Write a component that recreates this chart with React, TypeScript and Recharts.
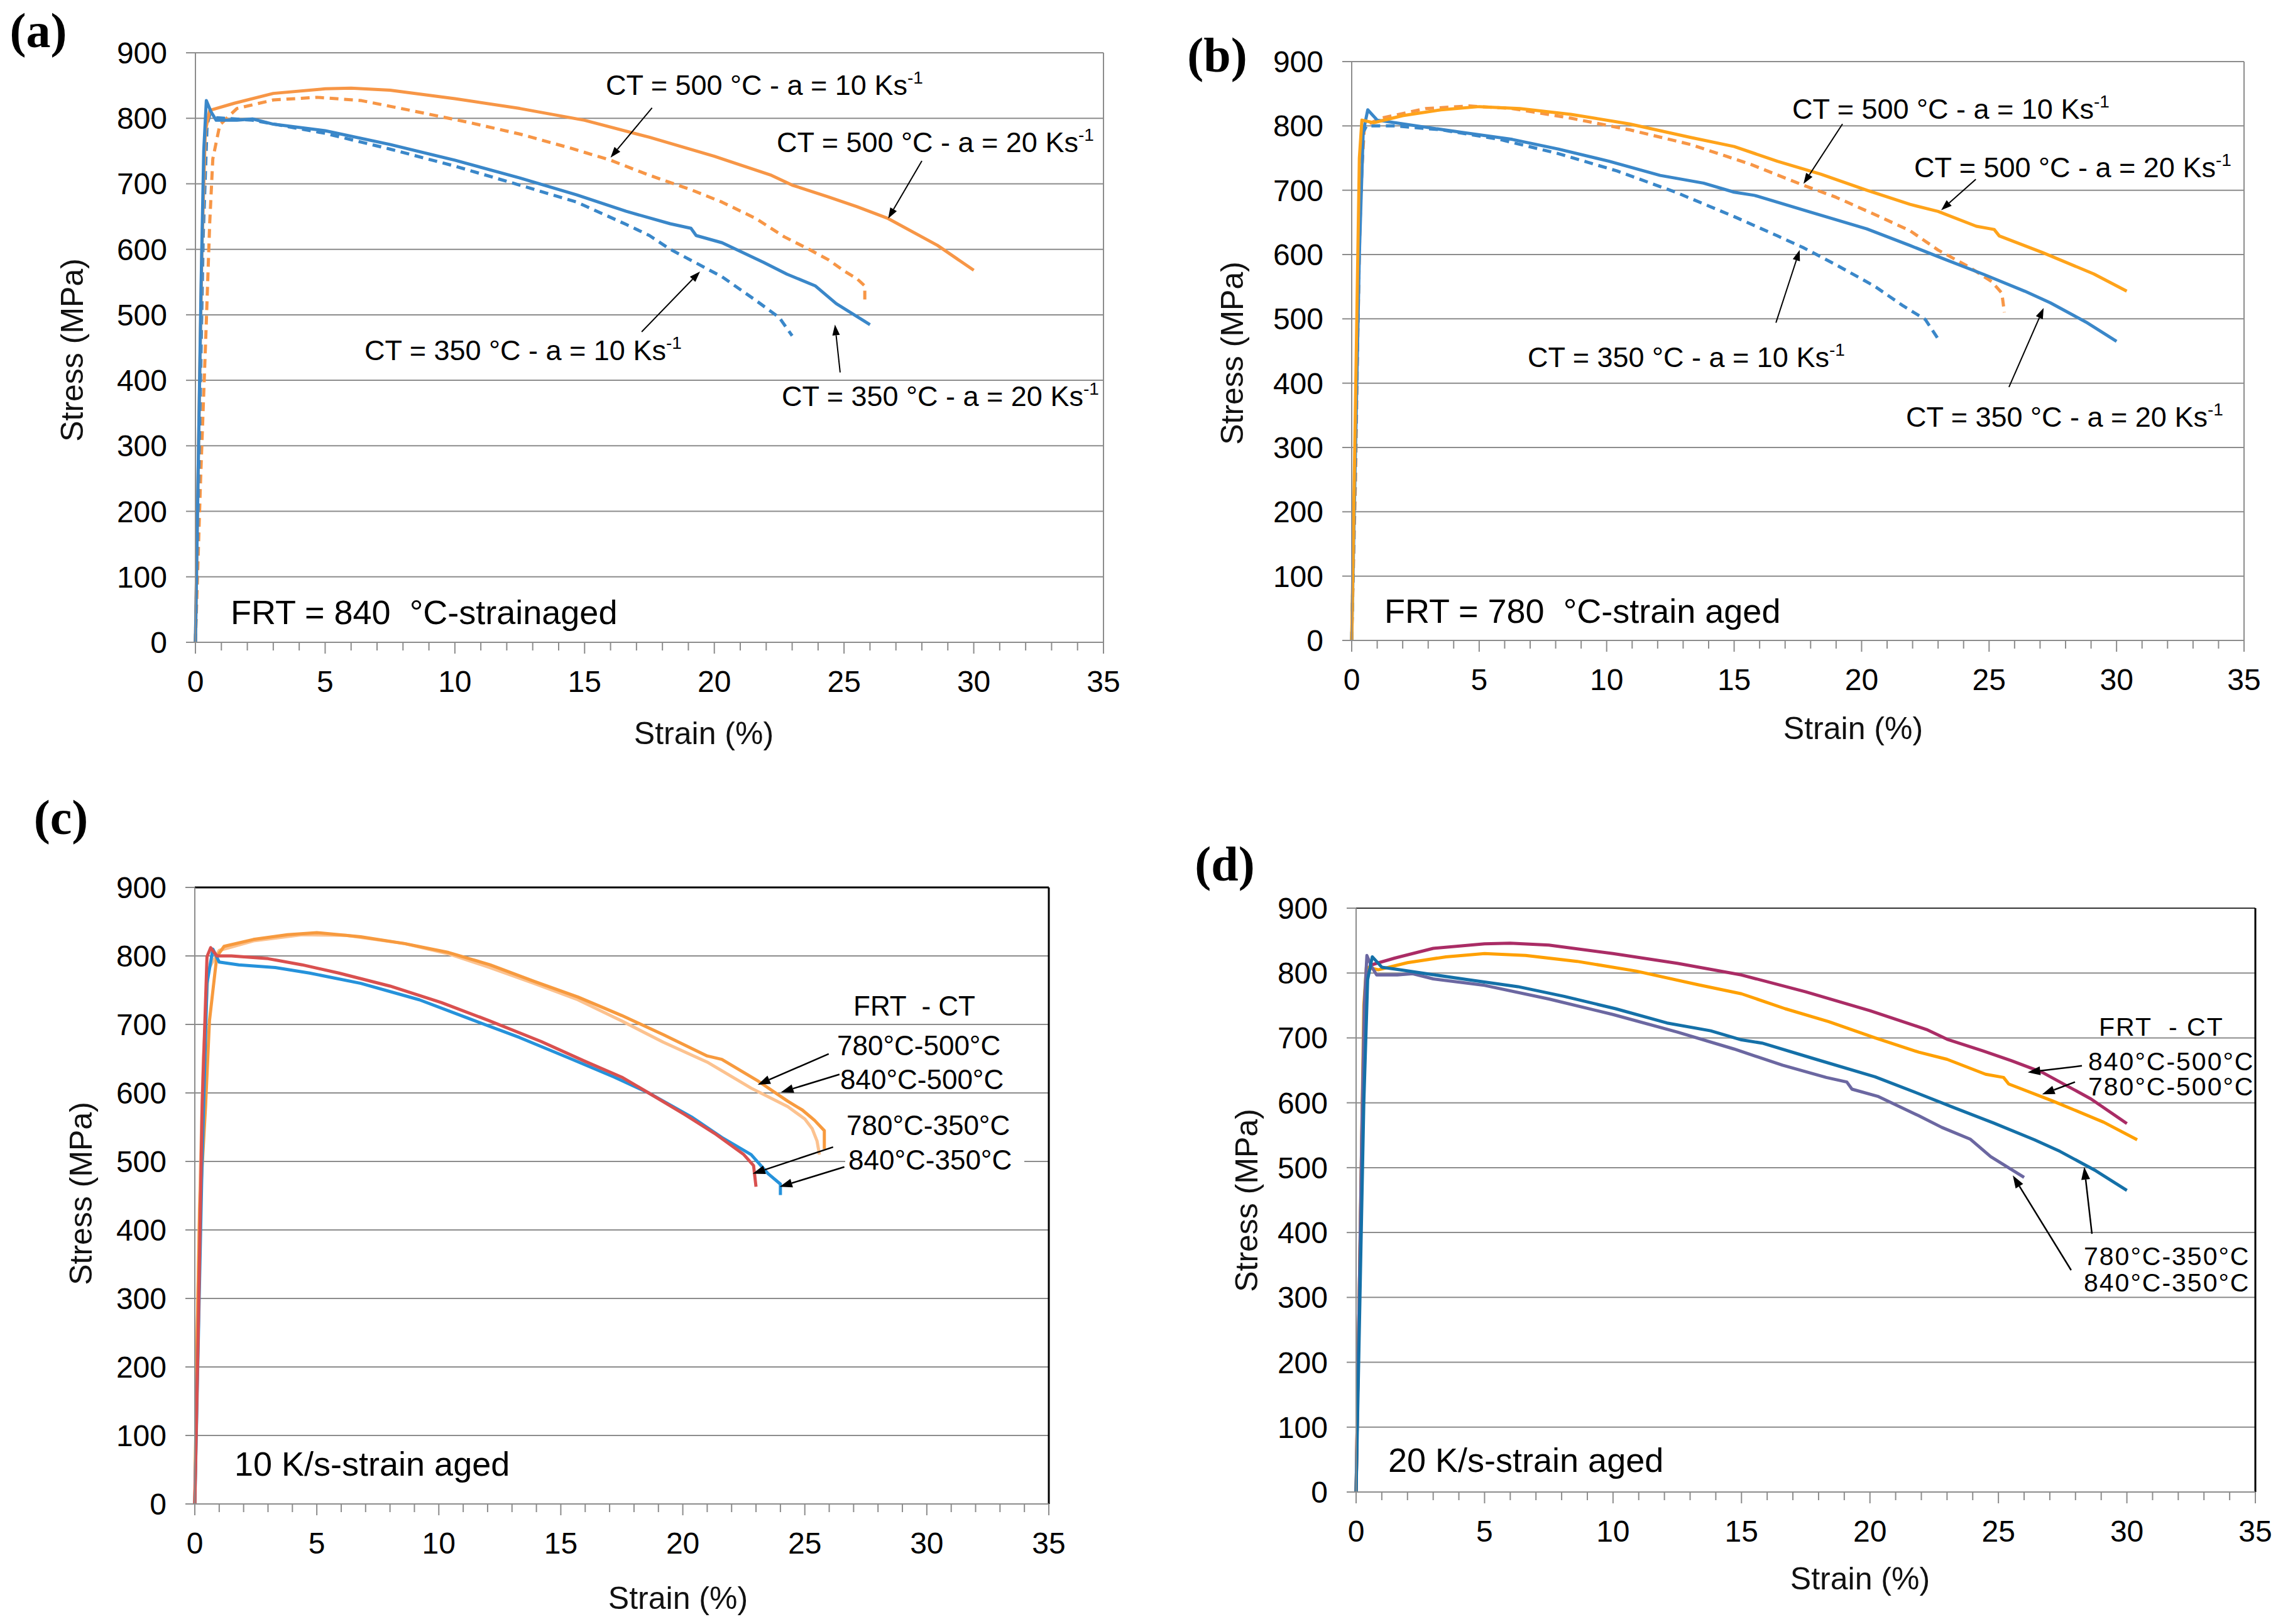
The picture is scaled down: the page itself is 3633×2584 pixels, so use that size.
import React from 'react';
import { LineChart, Line, XAxis, YAxis, CartesianGrid, ReferenceLine } from 'recharts';

const FONT = '"Liberation Sans", Arial, Helvetica, sans-serif';
const SERIF = '"Liberation Serif", "Times New Roman", serif';

// ---------- axis ticks ----------
const strainTicks = [0, 1, 2, 3, 4, 5, 6, 7, 8, 9, 10, 11, 12, 13, 14, 15, 16, 17, 18, 19, 20, 21, 22, 23, 24, 25, 26, 27, 28, 29, 30, 31, 32, 33, 34, 35];
const strainLabels = [0, 5, 10, 15, 20, 25, 30, 35];
const stressTicks = [0, 100, 200, 300, 400, 500, 600, 700, 800, 900];

// ---------- data: [strain %, stress MPa] ----------
// FRT 840 °C
const frt840_ct500_a20 = [[0, 0], [0.12, 300], [0.25, 600], [0.38, 780], [0.55, 812], [0.8, 815], [1.5, 823], [3.0, 838], [5.0, 845], [6.0, 846], [7.5, 843], [10, 830], [12.5, 815], [15, 797], [17.5, 771], [20, 742], [22.2, 713], [23, 698], [24.4, 680], [25.5, 665], [26.7, 647], [28.6, 606], [30.0, 568]];
const frt840_ct500_a10 = [[0, 0], [0.2, 250], [0.4, 467], [0.55, 640], [0.67, 738], [0.94, 790], [1.6, 815], [3.0, 828], [4.7, 832], [6.4, 827], [8.3, 812], [10.5, 794], [12.5, 776], [14.5, 754], [16.0, 736], [17.5, 713], [19.1, 691], [20.3, 672], [21.6, 647], [22.7, 619], [23.6, 601], [24.4, 584], [25.0, 567], [25.5, 555], [25.8, 544], [25.8, 520]];
const frt840_ct350_a20 = [[0, 0], [0.1, 250], [0.22, 550], [0.32, 750], [0.42, 827], [0.6, 810], [0.8, 797], [1.6, 797], [2.2, 799], [3.0, 791], [5.0, 781], [7.5, 760], [10, 736], [12.5, 709], [14.7, 683], [16.6, 658], [18.3, 639], [19.1, 632], [19.3, 621], [20.3, 610], [21.9, 580], [22.8, 562], [23.9, 544], [24.7, 517], [26.0, 485]];
const frt840_ct350_a10 = [[0, 0], [0.15, 300], [0.3, 620], [0.45, 790], [0.55, 805], [0.8, 801], [2.2, 797], [5.0, 777], [7.5, 753], [10, 727], [12.5, 698], [14.7, 672], [16.6, 638], [17.5, 621], [18.3, 600], [19.4, 577], [20.3, 558], [21.6, 522], [22.5, 496], [23.0, 468]];
// FRT 780 °C
const frt780_ct500_a20 = [[0, 0], [0.1, 250], [0.2, 500], [0.3, 750], [0.4, 809], [0.86, 805], [2.0, 816], [3.5, 825], [5.0, 830], [6.6, 827], [8.6, 818], [10.9, 803], [13.3, 782], [15.0, 768], [16.7, 745], [18.4, 725], [20.2, 700], [21.9, 678], [23.0, 667], [24.5, 644], [25.2, 639], [25.4, 629], [27.1, 603], [29.1, 570], [30.4, 543]];
const frt780_ct500_a10 = [[0, 0], [0.15, 250], [0.25, 500], [0.35, 700], [0.5, 800], [1.15, 812], [2.9, 827], [4.6, 831], [6.3, 827], [8.6, 812], [10.9, 794], [13.3, 771], [15.6, 741], [17.7, 708], [19.0, 689], [20.7, 659], [21.9, 637], [23.0, 607], [24.2, 581], [25.1, 558], [25.5, 540], [25.6, 510]];
const frt780_ct350_a20 = [[0, 0], [0.15, 300], [0.3, 600], [0.45, 790], [0.63, 825], [1.0, 809], [1.7, 805], [2.9, 798], [4.3, 790], [6.3, 779], [8.1, 764], [10.1, 745], [12.1, 723], [13.8, 711], [15.0, 697], [15.8, 692], [17.9, 667], [20.2, 640], [21.9, 614], [23.3, 592], [24.8, 569], [26.4, 543], [27.4, 525], [28.8, 495], [30.0, 465]];
const frt780_ct350_a10 = [[0, 0], [0.15, 300], [0.3, 620], [0.45, 790], [0.58, 800], [1.7, 800], [3.5, 794], [5.8, 779], [8.1, 757], [10.4, 730], [12.7, 697], [15.0, 659], [16.7, 629], [17.7, 611], [19.0, 584], [20.5, 551], [21.6, 521], [22.5, 499], [23.0, 469]];
// panel (c) curves, 10 K/s
const c_840_500 = [[0, 0], [0.1, 250], [0.2, 430], [0.44, 580], [0.6, 705], [0.9, 799], [1.2, 814], [2.4, 824], [3.8, 831], [5.0, 834], [6.8, 828], [8.6, 818], [10.4, 805], [12.1, 787], [13.9, 763], [15.7, 740], [17.5, 713], [19.2, 685], [21.0, 654], [21.6, 649], [23.1, 617], [24.3, 588], [24.9, 575], [25.4, 560], [25.8, 545], [25.8, 518]];
const c_780_500 = [[0, 0], [0.1, 250], [0.2, 450], [0.35, 650], [0.55, 780], [1.0, 808], [2.4, 822], [4.4, 831], [6.2, 830], [8.6, 818], [10.4, 803], [12.1, 783], [13.9, 760], [15.7, 736], [17.5, 705], [19.2, 674], [21.0, 645], [22.8, 607], [24.3, 580], [25.0, 562], [25.3, 548], [25.5, 530], [25.6, 510]];
const c_780_350 = [[0, 0], [0.15, 268], [0.3, 580], [0.5, 799], [0.65, 812], [0.9, 800], [1.5, 800], [3.0, 796], [4.4, 787], [5.9, 775], [8.0, 756], [10.1, 732], [12.1, 705], [14.2, 675], [16.0, 646], [17.5, 623], [18.6, 600], [20.1, 568], [21.3, 541], [22.5, 510], [22.9, 494], [23.0, 463]];
const c_840_350 = [[0, 0], [0.15, 250], [0.3, 502], [0.5, 760], [0.74, 810], [1.0, 791], [1.8, 787], [3.3, 783], [4.7, 775], [6.8, 760], [9.2, 736], [11.2, 709], [13.3, 681], [15.4, 650], [17.2, 623], [18.6, 600], [20.4, 564], [21.6, 535], [22.8, 510], [23.5, 482], [24.0, 467], [24.0, 451]];

type Pt = { x: number; y: number };
const pts = (arr: number[][]): Pt[] => arr.map(([x, y]) => ({ x, y }));

interface Series { data: number[][]; color: string; dashed?: boolean; width?: number }
interface ArrowSpec { from: [number, number]; to: [number, number] }
interface Label { text: string; x: number; y: number; sup?: boolean }

// ---------- arrow shape ----------
const makeArrow = (hl: number, hw: number, sw: number) => (props: any) => {
  const { x1, y1, x2, y2 } = props;
  if ([x1, y1, x2, y2].some((v) => typeof v !== 'number' || isNaN(v))) return <g />;
  const dx = x2 - x1;
  const dy = y2 - y1;
  const len = Math.hypot(dx, dy) || 1;
  const ux = dx / len;
  const uy = dy / len;
  const bx = x2 - ux * hl;
  const by = y2 - uy * hl;
  const px = -uy * hw;
  const py = ux * hw;
  return (
    <g>
      <line x1={x1} y1={y1} x2={bx} y2={by} stroke="#000" strokeWidth={sw} />
      <polygon points={`${x2},${y2} ${bx + px},${by + py} ${bx - px},${by - py}`} fill="#000" />
    </g>
  );
};

const XTick = (props: any) => {
  const { x, y, payload } = props;
  const v = payload.value;
  const major = v % 5 === 0;
  return (
    <g>
      <line x1={x} y1={y} x2={x} y2={y + (major ? 18 : 13)} stroke="#8c8c8c" strokeWidth={2} />
      {major && strainLabels.includes(v) ? (
        <text x={x} y={y + 45} dy="0.71em" textAnchor="middle" fontSize={48} fill="#000" fontFamily={FONT}>
          {v}
        </text>
      ) : null}
    </g>
  );
};

interface PanelProps {
  left: number; top: number; right: number; bottom: number;
  series: Series[]; arrows: ArrowSpec[];
  topBorder: string; topWidth: number; rightBorder: string; rightWidth: number;
  arrowSize: [number, number, number];
}

function Panel(p: PanelProps) {
  const ML = 300, MT = 30, MR = 30, XH = 150;
  const w = p.right - p.left + ML + MR;
  const h = p.bottom - p.top + MT + XH;
  const arrowShape = makeArrow(p.arrowSize[0], p.arrowSize[1], p.arrowSize[2]);
  return (
    <div style={{ position: 'absolute', left: p.left - ML, top: p.top - MT }}>
      <LineChart width={w} height={h} margin={{ top: MT, right: MR, bottom: 0, left: 0 }}>
        <CartesianGrid vertical={false} stroke="#8c8c8c" strokeWidth={2} />
        <XAxis
          type="number" dataKey="x" domain={[0, 35]} ticks={strainTicks} interval={0} height={XH}
          tickSize={0} tickMargin={0} tickLine={false}
          axisLine={{ stroke: '#8c8c8c', strokeWidth: 2 }}
          tick={(tp: any) => <XTick {...tp} />}
        />
        <YAxis
          type="number" domain={[0, 900]} ticks={stressTicks} interval={0} width={ML}
          tickSize={15} tickMargin={30}
          tickLine={{ stroke: '#8c8c8c', strokeWidth: 2 }}
          axisLine={{ stroke: '#8c8c8c', strokeWidth: 2 }}
          tick={{ fontSize: 48, fill: '#000', fontFamily: FONT }}
        />
        <ReferenceLine y={900} stroke={p.topBorder} strokeWidth={p.topWidth} />
        <ReferenceLine x={35} stroke={p.rightBorder} strokeWidth={p.rightWidth} />
        {p.series.map((s, i) => (
          <Line
            key={i} data={pts(s.data)} dataKey="y" type="linear" stroke={s.color}
            strokeWidth={s.width ?? 5} strokeDasharray={s.dashed ? '14 9' : undefined}
            strokeLinejoin="round" dot={false} activeDot={false} isAnimationActive={false}
          />
        ))}
        {p.arrows.map((a, i) => (
          <ReferenceLine
            key={'ar' + i}
            segment={[{ x: a.from[0], y: a.from[1] }, { x: a.to[0], y: a.to[1] }]}
            shape={arrowShape}
          />
        ))}
      </LineChart>
    </div>
  );
}

// ---------- colours ----------
const A_ORANGE = '#F79646';
const A_BLUE = '#3A87C9';
const B_ORANGE = '#FFA31A';
const C_DARK = '#F79A3E';
const C_PEACH = '#FCC28F';
const C_RED = '#D9504F';
const C_BLUE = '#2592DB';
const D_CRIMSON = '#AA2C65';
const D_ORANGE = '#FFA000';
const D_BLUE = '#1470A8';
const D_PURPLE = '#6B67A1';

// ---------- annotations ----------
const labelsA: Label[] = [
  { text: 'CT = 500 °C - a = 10 Ks', x: 964, y: 151, sup: true },
  { text: 'CT = 500 °C - a = 20 Ks', x: 1236, y: 242, sup: true },
  { text: 'CT = 350 °C - a = 10 Ks', x: 580, y: 573, sup: true },
  { text: 'CT = 350 °C - a = 20 Ks', x: 1244, y: 646, sup: true },
];
const labelsB: Label[] = [
  { text: 'CT = 500 °C - a = 10 Ks', x: 2852, y: 189, sup: true },
  { text: 'CT = 500 °C - a = 20 Ks', x: 3046, y: 282, sup: true },
  { text: 'CT = 350 °C - a = 10 Ks', x: 2431, y: 584, sup: true },
  { text: 'CT = 350 °C - a = 20 Ks', x: 3033, y: 679, sup: true },
];
const labelsC: Label[] = [
  { text: 'FRT  - CT', x: 1358, y: 1616 },
  { text: '780°C-500°C', x: 1332, y: 1679 },
  { text: '840°C-500°C', x: 1337, y: 1733 },
  { text: '780°C-350°C', x: 1347, y: 1806 },
  { text: '840°C-350°C', x: 1350, y: 1861 },
];
const labelsD: Label[] = [
  { text: 'FRT  - CT', x: 3340, y: 1648 },
  { text: '840°C-500°C', x: 3323, y: 1703 },
  { text: '780°C-500°C', x: 3323, y: 1743 },
  { text: '780°C-350°C', x: 3316, y: 2013 },
  { text: '840°C-350°C', x: 3316, y: 2055 },
];

export default function App() {
  return (
    <div style={{ position: 'absolute', left: 0, top: 0, width: 3633, height: 2584, overflow: 'hidden', background: '#fff' }}>
      <Panel
        left={311} top={84} right={1756} bottom={1022}
        series={[
          { data: frt840_ct500_a10, color: A_ORANGE, dashed: true },
          { data: frt840_ct350_a10, color: A_BLUE, dashed: true },
          { data: frt840_ct500_a20, color: A_ORANGE },
          { data: frt840_ct350_a20, color: A_BLUE },
        ]}
        arrows={[
          { from: [17.6, 816], to: [16.0, 740] },
          { from: [28.0, 735], to: [26.7, 647] },
          { from: [17.2, 474], to: [19.45, 566] },
          { from: [24.85, 412], to: [24.65, 485] },
        ]}
        topBorder="#8c8c8c" topWidth={2} rightBorder="#8c8c8c" rightWidth={2}
        arrowSize={[17, 6, 2]}
      />
      <Panel
        left={2151} top={98} right={3571} bottom={1019}
        series={[
          { data: frt780_ct500_a10, color: A_ORANGE, dashed: true },
          { data: frt780_ct350_a10, color: A_BLUE, dashed: true },
          { data: frt780_ct350_a20, color: A_BLUE },
          { data: frt780_ct500_a20, color: B_ORANGE },
        ]}
        arrows={[
          { from: [19.25, 803], to: [17.72, 710] },
          { from: [24.48, 717], to: [23.12, 669] },
          { from: [16.64, 494], to: [17.57, 607] },
          { from: [25.78, 394], to: [27.14, 517] },
        ]}
        topBorder="#8c8c8c" topWidth={2} rightBorder="#8c8c8c" rightWidth={2}
        arrowSize={[17, 6, 2]}
      />
      <Panel
        left={310} top={1412} right={1669} bottom={2393}
        series={[
          { data: c_780_500, color: C_PEACH },
          { data: c_840_500, color: C_DARK },
          { data: c_840_350, color: C_BLUE },
          { data: c_780_350, color: C_RED },
        ]}
        arrows={[
          { from: [25.98, 657], to: [23.07, 612] },
          { from: [26.42, 627], to: [24.02, 601] },
          { from: [26.16, 521], to: [22.86, 482] },
          { from: [26.62, 492], to: [23.97, 463] },
        ]}
        topBorder="#000" topWidth={3} rightBorder="#000" rightWidth={3}
        arrowSize={[20, 7, 2.5]}
      />
      <Panel
        left={2158} top={1445} right={3589} bottom={2374}
        series={[
          { data: frt840_ct500_a20, color: D_CRIMSON },
          { data: frt780_ct500_a20, color: D_ORANGE },
          { data: frt840_ct350_a20, color: D_PURPLE },
          { data: frt780_ct350_a20, color: D_BLUE },
        ]}
        arrows={[
          { from: [28.25, 657], to: [26.14, 647] },
          { from: [27.98, 632], to: [26.7, 613] },
          { from: [28.64, 398], to: [28.34, 501] },
          { from: [27.83, 342], to: [25.56, 488] },
        ]}
        topBorder="#333" topWidth={2} rightBorder="#000" rightWidth={3}
        arrowSize={[20, 7, 2.5]}
      />

      <svg width={3633} height={2584} style={{ position: 'absolute', left: 0, top: 0, pointerEvents: 'none' }}>
        {/* panel letters */}
        <g fontFamily={SERIF} fontWeight="bold" fontSize={78} fill="#000" textAnchor="middle">
          <text x={61} y={75}>(a)</text>
          <text x={1937} y={114}>(b)</text>
          <text x={97} y={1327}>(c)</text>
          <text x={1949} y={1401}>(d)</text>
        </g>
        {/* axis titles */}
        <g fontFamily={FONT} fontSize={50} fill="#111" textAnchor="middle" dominantBaseline="central">
          <text x={115} y={557} transform="rotate(-90 115 557)">Stress (MPa)</text>
          <text x={1120} y={1167}>Strain (%)</text>
          <text x={1961} y={562} transform="rotate(-90 1961 562)">Stress (MPa)</text>
          <text x={2949} y={1159}>Strain (%)</text>
          <text x={129} y={1899} transform="rotate(-90 129 1899)">Stress (MPa)</text>
          <text x={1079} y={2543}>Strain (%)</text>
          <text x={1984} y={1910} transform="rotate(-90 1984 1910)">Stress (MPa)</text>
          <text x={2960} y={2512}>Strain (%)</text>
        </g>
        {/* condition labels */}
        <g fontFamily={FONT} fontSize={54} fill="#000" style={{ whiteSpace: 'pre' }}>
          <text x={367} y={993} xmlSpace="preserve">FRT = 840  °C-strainaged</text>
          <text x={2203} y={991} xmlSpace="preserve">FRT = 780  °C-strain aged</text>
          <text x={373} y={2348}>10 K/s-strain aged</text>
          <text x={2209} y={2342}>20 K/s-strain aged</text>
        </g>
        {/* annotations a, b */}
        <g fontFamily={FONT} fontSize={45} fill="#000">
          {[...labelsA, ...labelsB].map((l, i) => (
            <text key={i} x={l.x} y={l.y}>
              {l.text}
              <tspan fontSize={28} dy={-18}>-1</tspan>
            </text>
          ))}
        </g>
        {/* panel c legend */}
        <rect x={1345} y={1822} width={285} height={50} fill="#fff" />
        <g fontFamily={FONT} fontSize={44} fill="#000">
          {labelsC.map((l, i) => (
            <text key={i} x={l.x} y={l.y} xmlSpace="preserve" style={{ whiteSpace: 'pre' }}>{l.text}</text>
          ))}
        </g>
        <g fontFamily={FONT} fontSize={41} fill="#000" letterSpacing={2}>
          {labelsD.map((l, i) => (
            <text key={i} x={l.x} y={l.y} xmlSpace="preserve" style={{ whiteSpace: 'pre' }}>{l.text}</text>
          ))}
        </g>
      </svg>
    </div>
  );
}
